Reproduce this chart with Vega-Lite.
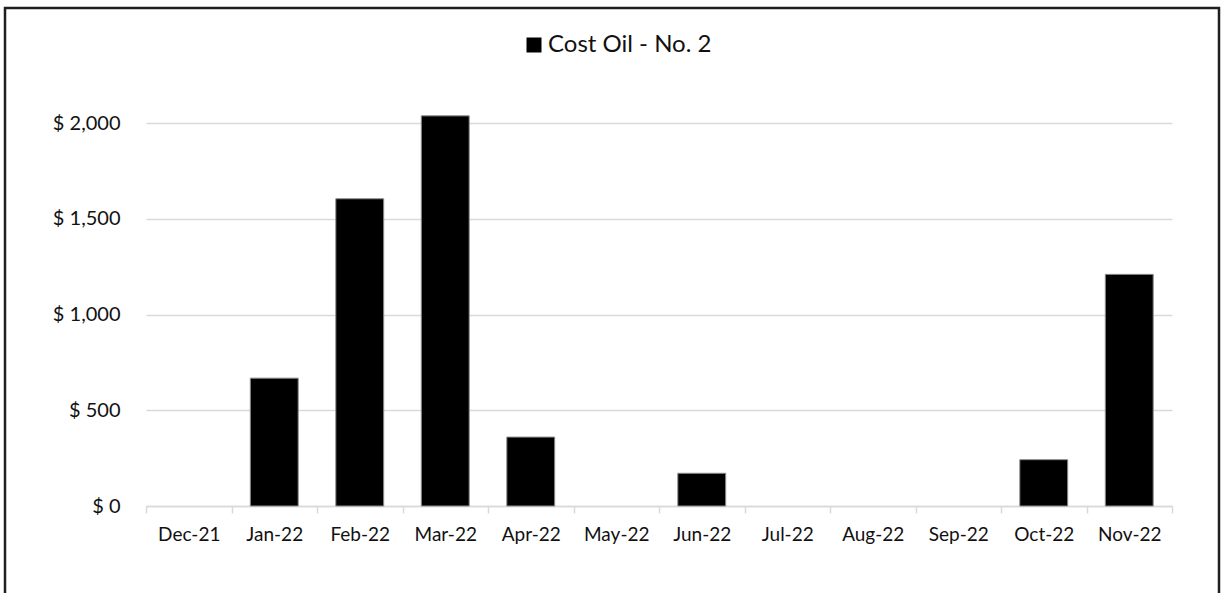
{
  "$schema": "https://vega.github.io/schema/vega-lite/v6.json",
  "width": 1026,
  "height": 402,
  "autosize": {"type": "none"},
  "padding": {"left": 146, "top": 104, "right": 50, "bottom": 87},
  "background": "white",
  "config": {
    "view": {"stroke": null},
    "font": "Lato",
    "axis": {"labelFont": "Lato", "labelColor": "#111111"},
    "legend": {"labelFont": "Lato", "labelColor": "#111111"}
  },
  "layer": [
    {
      "data": {"values": [{}]},
      "mark": {"type": "rect", "fill": null, "stroke": "#1f1f1f", "strokeWidth": 2.5, "clip": false},
      "encoding": {
        "x": {"value": -141},
        "x2": {"value": 1073},
        "y": {"value": -96},
        "y2": {"value": 520}
      }
    },
    {
      "data": {
        "values": [
          {"month": "Dec-21", "cost": 0, "series": "Cost Oil - No. 2"},
          {"month": "Jan-22", "cost": 668, "series": "Cost Oil - No. 2"},
          {"month": "Feb-22", "cost": 1605, "series": "Cost Oil - No. 2"},
          {"month": "Mar-22", "cost": 2038, "series": "Cost Oil - No. 2"},
          {"month": "Apr-22", "cost": 360, "series": "Cost Oil - No. 2"},
          {"month": "May-22", "cost": 0, "series": "Cost Oil - No. 2"},
          {"month": "Jun-22", "cost": 171, "series": "Cost Oil - No. 2"},
          {"month": "Jul-22", "cost": 0, "series": "Cost Oil - No. 2"},
          {"month": "Aug-22", "cost": 0, "series": "Cost Oil - No. 2"},
          {"month": "Sep-22", "cost": 0, "series": "Cost Oil - No. 2"},
          {"month": "Oct-22", "cost": 242, "series": "Cost Oil - No. 2"},
          {"month": "Nov-22", "cost": 1210, "series": "Cost Oil - No. 2"}
        ]
      },
      "mark": {"type": "bar", "width": {"band": 0.56}, "stroke": "#8c8c8c", "strokeWidth": 1},
      "encoding": {
        "x": {
          "field": "month",
          "type": "nominal",
          "sort": null,
          "scale": {"paddingInner": 0, "paddingOuter": 0},
          "axis": {
            "title": null,
            "labelAngle": 0,
            "labelFontSize": 19,
            "labelPadding": 12,
            "tickBand": "extent",
            "tickSize": 7,
            "tickColor": "#d9d9d9",
            "tickWidth": 1.5,
            "domainColor": "#d9d9d9",
            "domainWidth": 1.5,
            "grid": false
          }
        },
        "y": {
          "field": "cost",
          "type": "quantitative",
          "scale": {"domain": [0, 2100], "nice": false},
          "axis": {
            "title": null,
            "values": [0, 500, 1000, 1500, 2000],
            "labelExpr": "'$ ' + format(datum.value, ',')",
            "labelFontSize": 20,
            "labelPadding": 26,
            "ticks": false,
            "domain": false,
            "grid": true,
            "gridColor": "#d9d9d9",
            "gridWidth": 1.5
          }
        },
        "strokeOpacity": {
          "condition": {"test": "datum.cost > 0", "value": 1},
          "value": 0
        },
        "color": {
          "field": "series",
          "type": "nominal",
          "scale": {"range": ["#000000"]},
          "legend": {
            "title": null,
            "orient": "none",
            "legendX": 376,
            "legendY": -71,
            "direction": "horizontal",
            "symbolType": "square",
            "symbolSize": 225,
            "symbolStrokeWidth": 0,
            "labelFontSize": 24,
            "labelOffset": 2,
            "labelLimit": 400
          }
        }
      }
    }
  ]
}
